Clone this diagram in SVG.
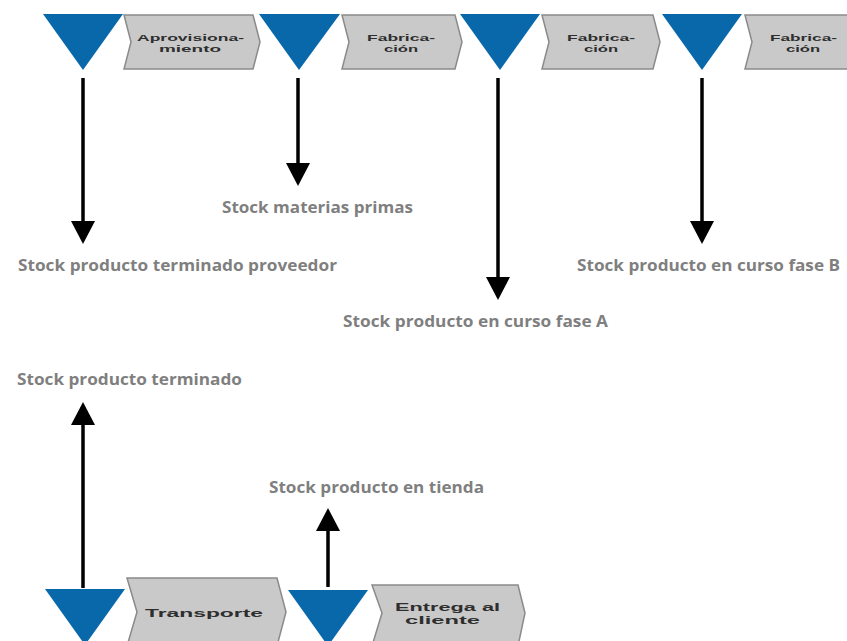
<svg xmlns="http://www.w3.org/2000/svg" width="847" height="641" viewBox="0 0 847 641">
<style>
.tri{fill:#0868aa}
.chev{fill:#c9c9c9;stroke:#8a8a8a;stroke-width:1.5}
.ct{font-family:"Liberation Sans",Arial,sans-serif;font-weight:bold;font-size:9.5px;fill:#2e2e2e}
.cb{font-family:"Liberation Sans",Arial,sans-serif;font-weight:bold;font-size:11.5px;fill:#2e2e2e}
.lbl{font-family:"Open Sans","Liberation Sans",sans-serif;font-weight:bold;font-size:16px;fill:#7f7f7f}
.ln{stroke:#000;stroke-width:3.5;fill:none}
.ah{fill:#000}
</style>
<rect width="847" height="641" fill="#fff"/>
<g id="tri1"><polygon class="tri" points="43,14 123,14 83,70"/></g>
<g id="proc1"><polygon class="chev" points="124,15 253,15 260,42 253,69 124,69 131,42"/>
<text class="ct" x="137" y="40.5" textLength="107" lengthAdjust="spacingAndGlyphs">Aprovisiona-</text>
<text class="ct" x="159" y="51.5" textLength="62" lengthAdjust="spacingAndGlyphs">miento</text></g>
<g id="tri2"><polygon class="tri" points="259,14 340,14 299,70"/></g>
<g id="proc2"><polygon class="chev" points="342,15 455,15 462,42 455,69 342,69 349,42"/>
<text class="ct" x="367" y="40.5" textLength="68" lengthAdjust="spacingAndGlyphs">Fabrica-</text>
<text class="ct" x="384" y="51.5" textLength="34" lengthAdjust="spacingAndGlyphs">ción</text></g>
<g id="tri3"><polygon class="tri" points="460,14 540,14 500,70"/></g>
<g id="proc3"><polygon class="chev" points="542,15 653,15 660,42 653,69 542,69 549,42"/>
<text class="ct" x="567" y="40.5" textLength="68" lengthAdjust="spacingAndGlyphs">Fabrica-</text>
<text class="ct" x="584" y="51.5" textLength="34" lengthAdjust="spacingAndGlyphs">ción</text></g>
<g id="tri4"><polygon class="tri" points="662,14 742,14 702,70"/></g>
<g id="proc4"><polygon class="chev" points="745,15 858,15 865,42 858,69 745,69 752,42"/>
<text class="ct" x="770" y="40.5" textLength="67" lengthAdjust="spacingAndGlyphs">Fabrica-</text>
<text class="ct" x="786" y="51.5" textLength="34" lengthAdjust="spacingAndGlyphs">ción</text></g>
<g id="tri5"><polygon class="tri" points="45,589 125,589 85,645"/></g>
<g id="proc5"><polygon class="chev" points="127,578 277,578 286,612 277,646 127,646 137,612"/>
<text class="cb" x="145" y="616.5" textLength="118" lengthAdjust="spacingAndGlyphs">Transporte</text></g>
<g id="tri6"><polygon class="tri" points="288,590 368,590 328,646"/></g>
<g id="proc6"><polygon class="chev" points="372,585 518,585 525,613 518,646 372,646 382,613"/>
<text class="cb" x="395" y="611" textLength="105" lengthAdjust="spacingAndGlyphs">Entrega al</text>
<text class="cb" x="405" y="624" textLength="75" lengthAdjust="spacingAndGlyphs">cliente</text></g>
<g id="labels">
<text class="lbl" x="222" y="213" textLength="191" lengthAdjust="spacingAndGlyphs">Stock materias primas</text>
<text class="lbl" x="18" y="271" textLength="319" lengthAdjust="spacingAndGlyphs">Stock producto terminado proveedor</text>
<text class="lbl" x="343" y="327" textLength="265" lengthAdjust="spacingAndGlyphs">Stock producto en curso fase A</text>
<text class="lbl" x="577" y="271" textLength="263" lengthAdjust="spacingAndGlyphs">Stock producto en curso fase B</text>
<text class="lbl" x="17" y="385" textLength="225" lengthAdjust="spacingAndGlyphs">Stock producto terminado</text>
<text class="lbl" x="269" y="493" textLength="215" lengthAdjust="spacingAndGlyphs">Stock producto en tienda</text>
</g>
<g id="connectors">
<line class="ln" x1="83" y1="78" x2="83" y2="224"/><polygon class="ah" points="71,221 95,221 83,244"/>
<line class="ln" x1="298" y1="78" x2="298" y2="166"/><polygon class="ah" points="286,163 310,163 298,186"/>
<line class="ln" x1="498" y1="78" x2="498" y2="280"/><polygon class="ah" points="486,277 510,277 498,300"/>
<line class="ln" x1="702" y1="78" x2="702" y2="224"/><polygon class="ah" points="690,221 714,221 702,244"/>
<line class="ln" x1="83" y1="588" x2="83" y2="422"/><polygon class="ah" points="71,425 95,425 83,402"/>
<line class="ln" x1="328" y1="587" x2="328" y2="528"/><polygon class="ah" points="316,531 340,531 328,508"/>
</g>
</svg>
